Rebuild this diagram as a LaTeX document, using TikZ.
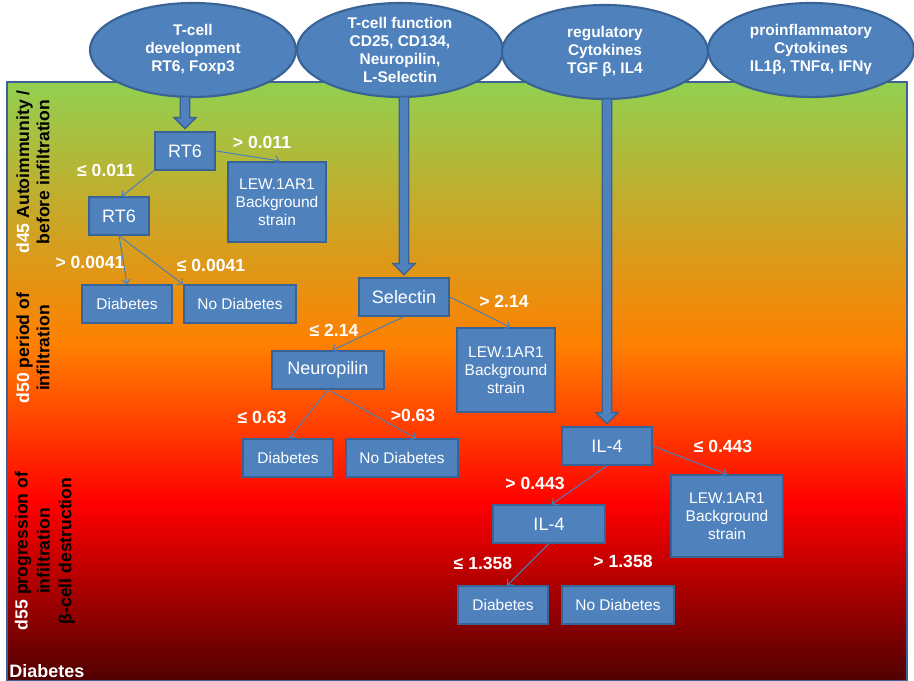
\documentclass[tikz,border=0pt]{standalone}
\usepackage{fontspec}
\setmainfont{Liberation Sans}
\usepackage{tikz}
\usetikzlibrary{arrows.meta,positioning,calc,shapes.geometric}
\definecolor{BoxBlue}{HTML}{4F81BD}
\definecolor{BoxEdge}{HTML}{3A6395}
\definecolor{LinkBlue}{HTML}{4A7EBB}
\definecolor{FrameBlue}{HTML}{3F6193}
\definecolor{StageGreen}{HTML}{92D050}
\definecolor{StageOrange}{HTML}{FF8000}
\definecolor{StageRed}{HTML}{FF0000}
\definecolor{StageDark}{HTML}{500000}

% fat block arrow from an ellipse down to a box
\newcommand{\fatarrow}[2]{%
  \draw[fatarr] let \p1=(#2.north), \p2=(#1.south) in
    (\x1-3.4pt,\y2+1pt) -- (\x1+3.4pt,\y2+1pt) -- (\x1+3.4pt,\y1+9.8pt)
    -- (\x1+7.8pt,\y1+9.8pt) -- (\x1,\y1+2pt) -- (\x1-7.8pt,\y1+9.8pt)
    -- (\x1-3.4pt,\y1+9.8pt) -- cycle;}

\begin{document}
\begin{tikzpicture}[
    x=0.025cm, y=-0.025cm,
    topic/.style={ellipse,draw=BoxEdge,fill=BoxBlue,line width=1.5pt,minimum width=5.15cm,minimum height=2.35cm,inner sep=0pt,text=white,align=center,font=\bfseries\fontsize{11}{12.8}\selectfont},
    split/.style={draw=BoxEdge,fill=BoxBlue,line width=1.5pt,text=white,minimum height=0.93cm,inner sep=2pt,font=\fontsize{12.8}{15}\selectfont},
    leaf/.style={split,font=\fontsize{11}{12.8}\selectfont},
    strain/.style={leaf,align=center,minimum width=2.45cm,minimum height=2cm},
    cut/.style={text=white,font=\bfseries\fontsize{12.5}{14}\selectfont},
    stage/.style={rotate=90,align=center,font=\bfseries\fontsize{12.5}{14.5}\selectfont},
    link/.style={-{Straight Barb[length=3pt,width=6pt]},LinkBlue,line width=0.7pt},
    fatarr/.style={draw=BoxEdge,fill=BoxBlue,line width=1pt}
  ]
    \useasboundingbox (0,0) rectangle (914,681);
    % background: time course from green to dark red
    \shade[top color=StageGreen,bottom color=StageOrange] (7,82) rectangle (907,345);
    \shade[top color=StageOrange,bottom color=StageRed] (7,345) rectangle (907,503);
    \shade[top color=StageRed,bottom color=StageDark] (7,503) rectangle (907,681);
    \draw[FrameBlue,line width=1.8pt] (7,82) rectangle (907,681);

    \node[stage] (d45) at (33,172) {{\color{white}d45} Autoimmunity /\\before infiltration};
    \node[stage] (d50) at (33,348) {{\color{white}d50} period of\\infiltration};
    \node[stage,font=\bfseries\fontsize{12.5}{15.5}\selectfont] (d55) at (45,551) {{\color{white}d55} progression of\\infiltration\\β-cell destruction};
    \node[cut,font=\bfseries\fontsize{12.8}{15}\selectfont] (endpt) at (47,671) {Diabetes};

    % marker groups
    \node[topic] (dev) at (193,50) {T-cell\\development\\RT6, Foxp3};
    \node[topic] (func) at (400,50) {T-cell function\\CD25, CD134,\\Neuropilin,\\L-Selectin};
    \node[topic] (reg) at (605,52) {regulatory\\Cytokines\\TGF β, IL4};
    \node[topic] (pro) at (811,50) {proinflammatory\\Cytokines\\IL1β, TNFα, IFNγ};

    % tree for d45
    \node[split,minimum width=1.5cm] (rt6a) at (185,151) {RT6};
    \node[strain] (lew1) at (277,202) {LEW.1AR1\\Background\\strain};
    \node[split,minimum width=1.5cm] (rt6b) at (119,216) {RT6};
    \node[leaf,minimum width=2.25cm] (diab1) at (127,304) {Diabetes};
    \node[leaf,minimum width=2.8cm] (nodiab1) at (240,304) {No Diabetes};

    % tree for d50
    \node[split,minimum width=2.25cm] (sel) at (404,297) {Selectin};
    \node[strain,minimum height=2.08cm] (lew2) at (506,370) {LEW.1AR1\\Background\\strain};
    \node[split,minimum width=2.78cm] (neuro) at (328,370) {Neuropilin};
    \node[leaf,minimum width=2.25cm] (diab2) at (288,458) {Diabetes};
    \node[leaf,minimum width=2.8cm] (nodiab2) at (402,458) {No Diabetes};

    % tree for d55
    \node[split,minimum width=2.23cm] (il4a) at (607,446) {IL-4};
    \node[strain,minimum width=2.78cm,minimum height=2.03cm] (lew3) at (727,516) {LEW.1AR1\\Background\\strain};
    \node[split,minimum width=2.78cm] (il4b) at (549,524) {IL-4};
    \node[leaf,minimum width=2.23cm] (diab3) at (503,605) {Diabetes};
    \node[leaf,minimum width=2.8cm] (nodiab3) at (618,605) {No Diabetes};

    \fatarrow{dev}{rt6a}
    \fatarrow{func}{sel}
    \fatarrow{reg}{il4a}

    \draw[link] (rt6a.east) -- ([xshift=2pt]lew1.north);
    \draw[link] (rt6a.south west) -- ([xshift=2pt]rt6b.north);
    \draw[link] (rt6b.south) -- (diab1.north);
    \draw[link] (rt6b.south) -- (nodiab1.north west);
    \draw[link] (sel.south) -- ([xshift=3pt]neuro.north);
    \draw[link] (sel.east) -- ([xshift=3pt]lew2.north);
    \draw[link] (neuro.south) -- ([xshift=1pt]diab2.north);
    \draw[link] (neuro.south) -- ([xshift=10pt]nodiab2.north);
    \draw[link] (il4a.east) -- (lew3.north);
    \draw[link] (il4a.south) -- ([xshift=2pt]il4b.north);
    \draw[link] (il4b.south) -- ([xshift=3pt]diab3.north);

    % split thresholds
    \node[cut] (c1) at (262,142) {> 0.011};
    \node[cut] (c2) at (106,170) {≤ 0.011};
    \node[cut] (c3) at (90,262) {> 0.0041};
    \node[cut] (c4) at (211,265) {≤ 0.0041};
    \node[cut] (c5) at (334,330) {≤ 2.14};
    \node[cut] (c6) at (504,301) {> 2.14};
    \node[cut] (c7) at (262,417) {≤ 0.63};
    \node[cut] (c8) at (413,415) {>0.63};
    \node[cut] (c9) at (723,446) {≤ 0.443};
    \node[cut] (c10) at (535,483) {> 0.443};
    \node[cut] (c11) at (483,563) {≤ 1.358};
    \node[cut] (c12) at (623,561) {> 1.358};
  \end{tikzpicture}
\end{document}
